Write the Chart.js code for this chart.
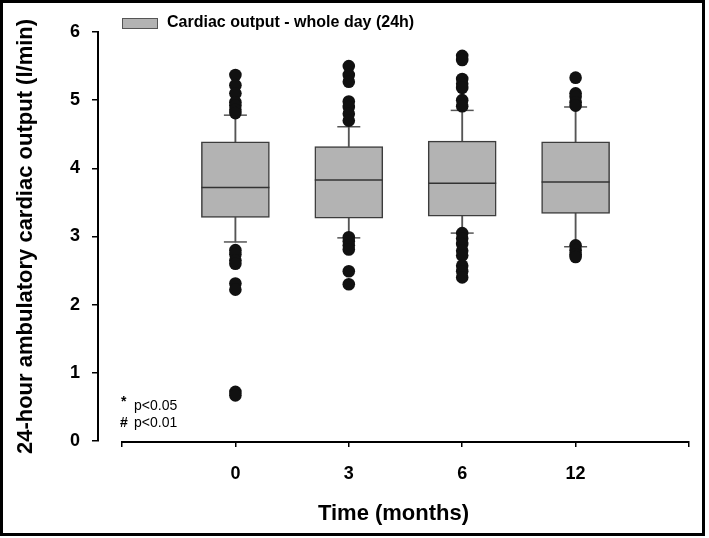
<!DOCTYPE html>
<html lang="en">
<head>
<meta charset="UTF-8" />
<title>24-hour ambulatory cardiac output</title>
<script src="https://cdn.jsdelivr.net/npm/chart.js@4.4.1/dist/chart.umd.min.js"></script>
<style>
  body { margin: 0; background: #fff; }
  canvas { display: block; }
</style>
</head>
<body>
<canvas id="chart1" width="709" height="538"></canvas>
<script>
// categories (months) and their slot on the linear x axis
const months = ['0', '3', '6', '12'];
const slots = [0, 1, 2, 3];
const xTicks = [-1, 0, 1, 2, 3, 4];
const yTicks = [0, 1, 2, 3, 4, 5, 6];

// box plot statistics, l/min
const whiskerLow = [2.92, 2.98, 3.05, 2.85];
const q1 = [3.28, 3.27, 3.30, 3.34];
const median = [3.72, 3.83, 3.78, 3.80];
const q3 = [4.39, 4.32, 4.40, 4.39];
const whiskerHigh = [4.78, 4.61, 4.85, 4.90];

// outliers per month
const outliers0 = [5.37, 5.22, 5.10, 4.97, 4.92, 4.86, 4.81, 2.80, 2.74, 2.65, 2.60, 2.31, 2.22, 0.72, 0.67];
const outliers3 = [5.50, 5.37, 5.27, 4.98, 4.90, 4.80, 4.70, 2.99, 2.93, 2.87, 2.81, 2.49, 2.30];
const outliers6 = [5.65, 5.59, 5.31, 5.24, 5.18, 5.00, 4.91, 3.05, 2.97, 2.89, 2.79, 2.72, 2.57, 2.49, 2.40];
const outliers12 = [5.33, 5.10, 5.05, 4.97, 4.92, 2.87, 2.80, 2.74, 2.70];

const FONT = "'Liberation Sans', Arial, Helvetica, sans-serif";
Chart.defaults.font.family = FONT;
Chart.defaults.color = '#000';

const outlierPoints = [];
[outliers0, outliers3, outliers6, outliers12].forEach((list, i) => {
  list.forEach(v => outlierPoints.push({ x: slots[i], y: v }));
});

const data = {
  datasets: [
    {
      type: 'scatter',
      label: 'outliers',
      data: outlierPoints,
      pointRadius: 6.3,
      pointBackgroundColor: '#111',
      pointBorderColor: '#111',
      pointBorderWidth: 0,
      order: 0
    },
    {
      type: 'scatter',
      label: 'caps',
      data: slots.map(i => ({ x: i, y: whiskerHigh[i] })).concat(slots.map(i => ({ x: i, y: whiskerLow[i] }))),
      pointStyle: 'line',
      pointRadius: 11.5,
      pointBorderColor: '#555',
      pointBorderWidth: 1.5,
      order: 1
    },
    {
      type: 'scatter',
      label: 'median',
      data: slots.map(i => ({ x: i, y: median[i] })),
      pointStyle: 'line',
      pointRadius: 34,
      pointBorderColor: '#333',
      pointBorderWidth: 1.5,
      order: 2
    },
    {
      type: 'bar',
      label: 'Cardiac output - whole day (24h)',
      data: slots.map(i => ({ x: i, y: [q1[i], q3[i]] })),
      backgroundColor: '#b3b3b3',
      borderColor: '#3c3c3c',
      borderWidth: 1.5,
      borderSkipped: false,
      barThickness: 68,
      grouped: false,
      order: 3
    },
    {
      type: 'bar',
      label: 'whiskers',
      data: slots.map(i => ({ x: i, y: [q3[i], whiskerHigh[i]] })),
      backgroundColor: '#555',
      barThickness: 1.2,
      grouped: false,
      order: 4
    },
    {
      type: 'bar',
      label: 'whiskers low',
      data: slots.map(i => ({ x: i, y: [whiskerLow[i], q1[i]] })),
      backgroundColor: '#555',
      barThickness: 1.2,
      grouped: false,
      order: 4
    }
  ]
};

// frame, detached x axis line, legend and the p-value notes
const extras = {
  id: 'extras',
  afterDraw(chart) {
    const { ctx, chartArea: { bottom }, scales: { x } } = chart;
    ctx.save();

    // x axis line
    ctx.strokeStyle = '#000';
    ctx.lineWidth = 2;
    ctx.beginPath();
    ctx.moveTo(x.getPixelForValue(xTicks[0]), bottom + 1);
    ctx.lineTo(x.getPixelForValue(xTicks[xTicks.length - 1]), bottom + 1);
    ctx.stroke();

    // legend
    const box = chart.data.datasets[3];
    ctx.fillStyle = box.backgroundColor;
    ctx.fillRect(122, 18, 36, 10);
    ctx.strokeStyle = '#555';
    ctx.lineWidth = 1;
    ctx.strokeRect(122.5, 18.5, 35, 10);
    ctx.fillStyle = '#000';
    ctx.font = 'bold 16px ' + FONT;
    ctx.textBaseline = 'middle';
    ctx.textAlign = 'left';
    ctx.fillText(box.label, 167, 23);

    // notes
    ctx.font = 'bold 14px ' + FONT;
    ctx.fillText('*', 121, 402);
    ctx.fillText('#', 120, 423);
    ctx.font = '14px ' + FONT;
    ctx.fillText('p<0.05', 134, 406);
    ctx.fillText('p<0.01', 134, 423);

    // frame
    ctx.strokeStyle = '#000';
    ctx.lineWidth = 3;
    ctx.strokeRect(1.5, 1.5, 702, 533);
    ctx.restore();
  }
};

const config = {
  type: 'bar',
  data: data,
  options: {
    responsive: false,
    animation: false,
    layout: { autoPadding: false, padding: { left: 9, right: 20, top: 32, bottom: 5 } },
    plugins: { legend: { display: false }, tooltip: { enabled: false } },
    scales: {
      x: {
        type: 'linear',
        offset: false,
        min: -1.2116,
        max: 4,
        afterBuildTicks: (scale) => { scale.ticks = xTicks.map(v => ({ value: v })); },
        afterFit: (scale) => { scale.height = 92; },
        ticks: {
          padding: 16,
          font: { size: 18, weight: 'bold' },
          callback: (v) => (v >= 0 && v < months.length ? months[v] : '')
        },
        grid: { offset: false, drawOnChartArea: false, drawTicks: true, tickLength: 6, color: '#000', lineWidth: 1.5 },
        border: { display: false },
        title: {
          display: true,
          text: 'Time (months)',
          font: { size: 22, weight: 'bold' },
          padding: { top: 0, bottom: 6 }
        }
      },
      y: {
        min: 0,
        max: 6,
        afterBuildTicks: (scale) => { scale.ticks = yTicks.map(v => ({ value: v })); },
        afterFit: (scale) => { scale.width = 89; },
        ticks: { padding: 12, font: { size: 18, weight: 'bold' } },
        grid: { drawOnChartArea: false, drawTicks: true, tickLength: 6, color: '#000', lineWidth: 1.5 },
        border: { display: true, color: '#000', width: 2 },
        title: {
          display: true,
          text: '24-hour ambulatory cardiac output (l/min)',
          font: { size: 22, weight: 'bold' },
          padding: { top: 4, bottom: 0 }
        }
      }
    }
  },
  plugins: [extras]
};

const myChart = new Chart(document.getElementById('chart1'), config);
</script>
</body>
</html>
